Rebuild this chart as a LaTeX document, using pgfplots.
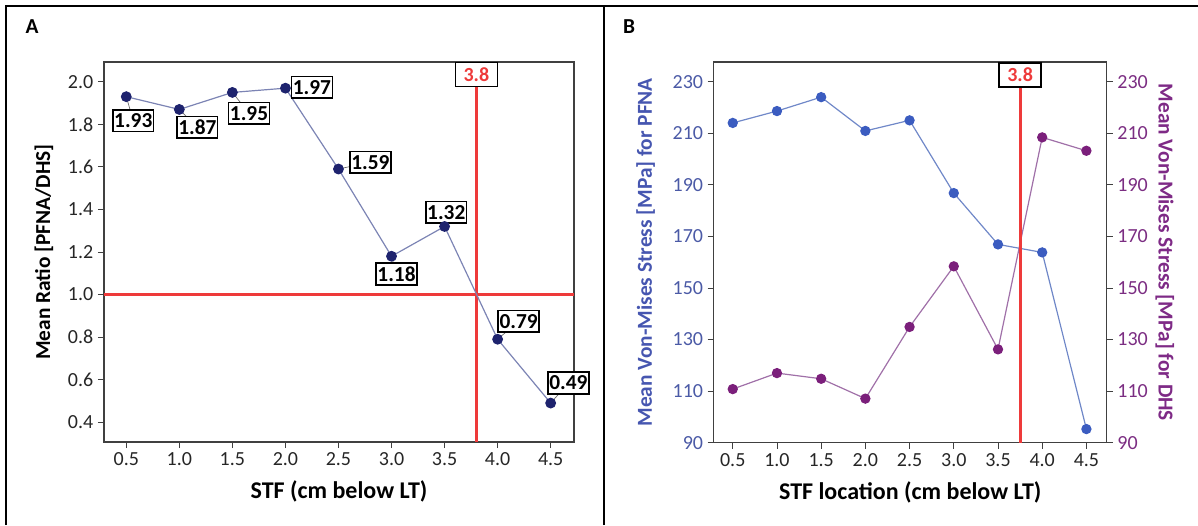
\documentclass[border=0pt]{standalone}
\usepackage{fontspec}
\setmainfont{Carlito}
\usepackage{pgfplots}
\pgfplotsset{compat=1.18}
\definecolor{navy}{HTML}{1E236E}
\definecolor{navyline}{HTML}{7C84B4}
\definecolor{pfna}{HTML}{3B5CC0}
\definecolor{pfnaline}{HTML}{7088C8}
\definecolor{dhs}{HTML}{7B1F7B}
\definecolor{dhsline}{HTML}{A070A8}
\definecolor{redl}{HTML}{EE3A3A}
\definecolor{tickblue}{HTML}{4B5AA6}
\definecolor{tickpurple}{HTML}{7B2D82}
\definecolor{labblue}{HTML}{4656B0}
\definecolor{labpurple}{HTML}{7E2A86}
\newcommand\tf{\fontsize{15}{18}\selectfont}
\newcommand\lf{\bfseries\fontsize{16}{19}\selectfont}
\newcommand\xf{\bfseries\fontsize{18}{21}\selectfont}
\tikzset{lbl/.style={draw=black, line width=1.1pt, fill=white, font=\bfseries\fontsize{16}{19}\selectfont, inner xsep=1pt, inner ysep=1pt, minimum height=16.3pt},
 rbox/.style={draw=black, line width=1.1pt, fill=white, font=\bfseries\tf, text=redl, anchor=north, minimum width=31.5pt, minimum height=18pt},
 lead/.style={draw=gray!80!black, line width=0.5pt}}
\pgfplotsset{common/.style={scale only axis, anchor=south west,
  axis line style={draw=gray!50!black, line width=0.9pt},
  tick align=outside, major tick length=4.5pt,
  tick style={draw=gray!50!black, line width=0.6pt},
  xtick={0.5,1,...,4.5},
  xtick pos=bottom,
  xticklabel style={font=\tf, /pgf/number format/fixed, /pgf/number format/fixed zerofill, /pgf/number format/precision=1},
  /pgf/number format/assume math mode=true,
  clip=false,
  xlabel style={font=\xf, at={(axis description cs:0.5,-0.13)}, anchor=center},
}}
\begin{document}
\begin{tikzpicture}[x=0.75pt,y=0.75pt]
\path[use as bounding box] (0,0) rectangle (1198,525);
\draw[line width=1.1pt] (6,0) -- (6,519) -- (1198,519);
\draw[line width=1.1pt] (604,0) -- (604,519);
\node[font=\bfseries\fontsize{16}{19}\selectfont] at (32,498) {A};
\node[font=\bfseries\fontsize{16}{19}\selectfont] at (629,498) {B};

% Panel A
\begin{axis}[common, at={(78pt,62.25pt)}, width=352.5pt, height=285pt,
  xmin=0.29, xmax=4.72, ymin=0.307, ymax=2.093,
  ytick={0.4,0.6,...,2.01}, ytick pos=left,
  yticklabel style={font=\tf, text=black!85, /pgf/number format/fixed, /pgf/number format/fixed zerofill, /pgf/number format/precision=1},
  xticklabel style={text=black!85},
  xlabel={STF (cm below LT)},
  ylabel={Mean Ratio [PFNA/DHS]},
  ylabel style={font=\lf, at={(axis description cs:-0.1277,0.5)}, anchor=center},
]
\draw[redl, line width=2.1pt] (axis cs:0.29,1) -- (axis cs:4.72,1);
\draw[redl, line width=2.1pt] (axis cs:3.8,0.307) -- (axis cs:3.8,2.0);
\draw[lead] (axis cs:0.5,1.93) -- ++(5.25pt,-18pt);
\draw[lead] (axis cs:1.0,1.87) -- ++(13.5pt,-13.3pt);
\draw[lead] (axis cs:1.5,1.95) -- ++(12.5pt,-15.6pt);
\draw[lead] (axis cs:2.0,1.97) -- ++(19.9pt,0.75pt);
\draw[lead] (axis cs:2.5,1.59) -- ++(24pt,5.1pt);
\draw[lead] (axis cs:3.0,1.18) -- ++(3.75pt,-13.3pt);
\draw[lead] (axis cs:3.5,1.32) -- ++(1.3pt,10.7pt);
\draw[lead] (axis cs:4.0,0.79) -- ++(15.75pt,13.5pt);
\draw[lead] (axis cs:4.5,0.49) -- ++(13.35pt,15pt);
\addplot[navyline, line width=0.9pt, mark=*, mark size=3.6pt, mark options={draw=navy, fill=navy}]
 coordinates {(0.5,1.93) (1.0,1.87) (1.5,1.95) (2.0,1.97) (2.5,1.59) (3.0,1.18) (3.5,1.32) (4.0,0.79) (4.5,0.49)};
\node[lbl, xshift=5.25pt, yshift=-18pt] at (axis cs:0.5,1.93) {1.93};
\node[lbl, xshift=13.5pt, yshift=-13.3pt] at (axis cs:1.0,1.87) {1.87};
\node[lbl, xshift=12.5pt, yshift=-15.6pt] at (axis cs:1.5,1.95) {1.95};
\node[lbl, xshift=19.9pt, yshift=0.75pt] at (axis cs:2.0,1.97) {1.97};
\node[lbl, xshift=24pt, yshift=5.1pt] at (axis cs:2.5,1.59) {1.59};
\node[lbl, xshift=3.75pt, yshift=-13.3pt] at (axis cs:3.0,1.18) {1.18};
\node[lbl, xshift=1.3pt, yshift=10.7pt] at (axis cs:3.5,1.32) {1.32};
\node[lbl, xshift=15.75pt, yshift=13.5pt] at (axis cs:4.0,0.79) {0.79};
\node[lbl, xshift=13.35pt, yshift=15pt] at (axis cs:4.5,0.49) {0.49};
\node[rbox] at (axis cs:3.8,2.093) {3.8};
\end{axis}

% Panel B - PFNA (left axis)
\begin{axis}[common, at={(535.3pt,61.7pt)}, width=294.75pt, height=285.5pt,
  xmin=0.285, xmax=4.73, ymin=90, ymax=237.6,
  ytick={90,110,...,230}, ytick pos=left,
  yticklabel style={font=\tf, text=tickblue},
  xticklabel style={text=black!85},
  xlabel={STF location (cm below LT)},
  ylabel={Mean Von-Mises Stress [MPa] for PFNA},
  ylabel style={font=\lf, text=labblue, at={(axis description cs:-0.173,0.5)}, anchor=center},
]
\addplot[pfnaline, line width=0.9pt, mark=*, mark size=3.4pt, mark options={draw=pfna, fill=pfna}]
 coordinates {(0.5,214) (1.0,218.6) (1.5,224) (2.0,210.9) (2.5,215) (3.0,186.8) (3.5,166.9) (4.0,163.8) (4.5,95.3)};
\end{axis}

% Panel B - DHS (right axis)
\begin{axis}[common, at={(535.3pt,61.7pt)}, width=294.75pt, height=285.5pt,
  xmin=0.285, xmax=4.73, ymin=90, ymax=237.6,
  axis x line=none, axis y line*=right,
  ytick={90,110,...,230}, ytick pos=right,
  yticklabel style={font=\tf, text=tickpurple},
  ylabel={Mean Von-Mises Stress [MPa] for DHS},
  ylabel style={font=\lf, text=labpurple, at={(axis description cs:1.1476,0.5)}, anchor=center, rotate=180},
]
\addplot[dhsline, line width=0.9pt, mark=*, mark size=3.4pt, mark options={draw=dhs, fill=dhs}]
 coordinates {(0.5,110.8) (1.0,117) (1.5,114.8) (2.0,107.1) (2.5,134.9) (3.0,158.4) (3.5,126.2) (4.0,208.4) (4.5,203.2)};
\draw[redl, line width=2.3pt] (axis cs:3.75,90) -- (axis cs:3.75,230);
\node[rbox] at (axis cs:3.75,237.6) {3.8};
\end{axis}
\end{tikzpicture}
\end{document}
